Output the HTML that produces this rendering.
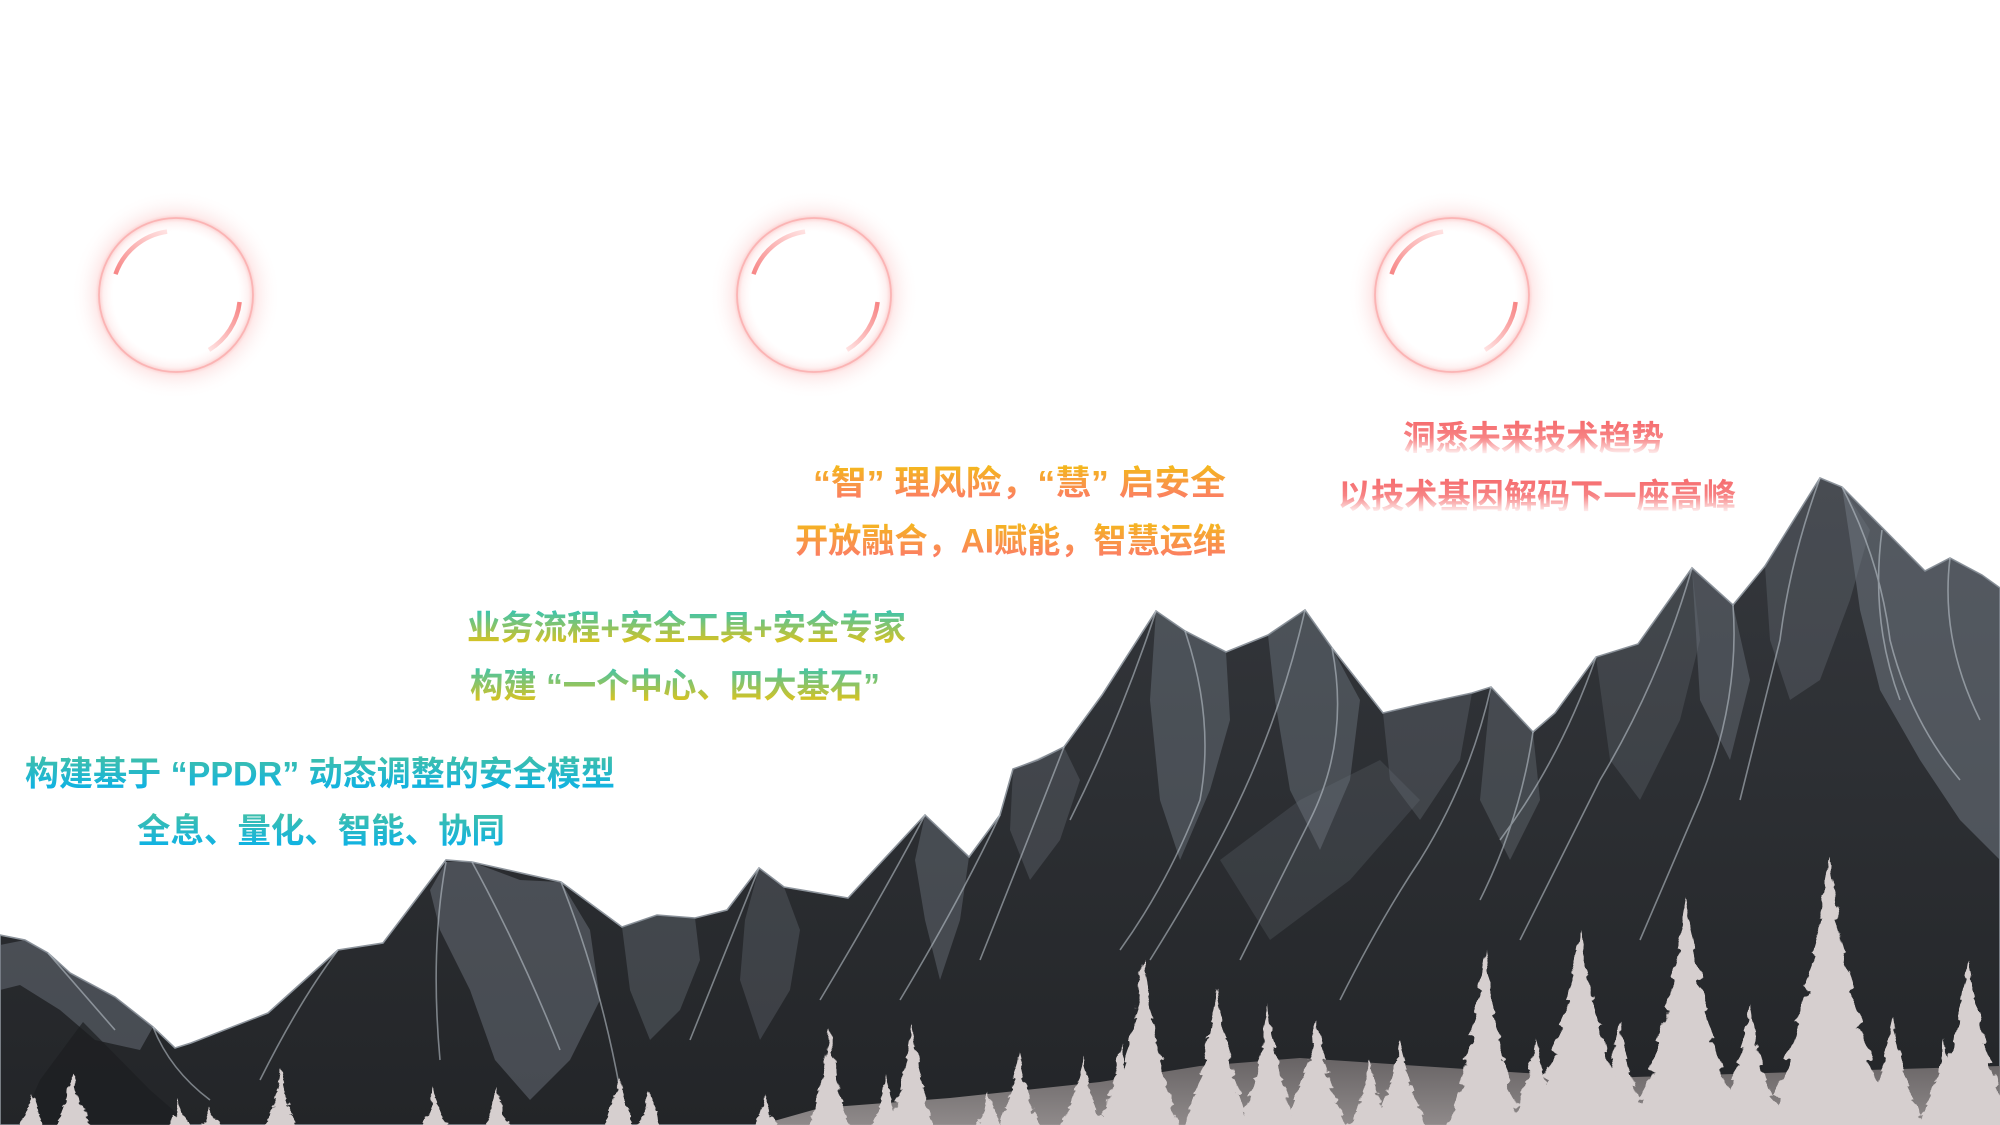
<!DOCTYPE html>
<html>
<head>
<meta charset="utf-8">
<style>
html,body{margin:0;padding:0;background:#ffffff;width:2000px;height:1125px;overflow:hidden}
svg{display:block}
text{font-family:"Liberation Sans","Noto Sans CJK SC",sans-serif;font-weight:700;font-size:34px}
</style>
</head>
<body>
<svg width="2000" height="1125" viewBox="0 0 2000 1125" xmlns="http://www.w3.org/2000/svg">
<defs>
  <radialGradient id="glow" cx="0.5" cy="0.5" r="0.5">
    <stop offset="0" stop-color="#ffffff" stop-opacity="0"/>
    <stop offset="0.6" stop-color="#ffdede" stop-opacity="0"/>
    <stop offset="0.69" stop-color="#fcc8c8" stop-opacity="0.25"/>
    <stop offset="0.733" stop-color="#f9aeae" stop-opacity="0.6"/>
    <stop offset="0.77" stop-color="#fcc6c6" stop-opacity="0.35"/>
    <stop offset="0.87" stop-color="#fde2e2" stop-opacity="0.2"/>
    <stop offset="1" stop-color="#ffffff" stop-opacity="0"/>
  </radialGradient>
  <linearGradient id="arcA" x1="0" y1="1" x2="1" y2="0">
    <stop offset="0" stop-color="#f78686"/>
    <stop offset="1" stop-color="#ffe2e2"/>
  </linearGradient>
  <linearGradient id="arcB" x1="1" y1="0" x2="0" y2="1">
    <stop offset="0" stop-color="#f78686"/>
    <stop offset="1" stop-color="#ffe2e2"/>
  </linearGradient>

  <linearGradient id="gB1" gradientUnits="userSpaceOnUse" x1="0" y1="757" x2="0" y2="789">
    <stop offset="0" stop-color="#3ebfab"/><stop offset="1" stop-color="#0fb2e4"/>
  </linearGradient>
  <linearGradient id="gB2" gradientUnits="userSpaceOnUse" x1="0" y1="814" x2="0" y2="846">
    <stop offset="0" stop-color="#3ebfab"/><stop offset="1" stop-color="#0fb2e4"/>
  </linearGradient>
  <linearGradient id="gG1" gradientUnits="userSpaceOnUse" x1="0" y1="611" x2="0" y2="643">
    <stop offset="0" stop-color="#3cc4ad"/><stop offset="1" stop-color="#dcc31d"/>
  </linearGradient>
  <linearGradient id="gG2" gradientUnits="userSpaceOnUse" x1="0" y1="667" x2="0" y2="701">
    <stop offset="0" stop-color="#3cc4ad"/><stop offset="1" stop-color="#dcc31d"/>
  </linearGradient>
  <linearGradient id="gO1" gradientUnits="userSpaceOnUse" x1="0" y1="466" x2="0" y2="498">
    <stop offset="0" stop-color="#f4b81c"/><stop offset="1" stop-color="#fc7e63"/>
  </linearGradient>
  <linearGradient id="gO2" gradientUnits="userSpaceOnUse" x1="0" y1="522" x2="0" y2="556">
    <stop offset="0" stop-color="#f4b81c"/><stop offset="1" stop-color="#fc7e63"/>
  </linearGradient>
  <linearGradient id="gP1" gradientUnits="userSpaceOnUse" x1="0" y1="421" x2="0" y2="458">
    <stop offset="0" stop-color="#f56c6e"/><stop offset="0.45" stop-color="#f78384"/><stop offset="0.95" stop-color="#ffffff"/>
  </linearGradient>
  <linearGradient id="gP2" gradientUnits="userSpaceOnUse" x1="0" y1="479" x2="0" y2="516">
    <stop offset="0" stop-color="#f56c6e"/><stop offset="0.45" stop-color="#f78384"/><stop offset="0.95" stop-color="#ffffff"/>
  </linearGradient>

  <linearGradient id="mtn" x1="0" y1="0" x2="0" y2="1">
    <stop offset="0" stop-color="#35383d"/>
    <stop offset="1" stop-color="#232528"/>
  </linearGradient>
  <linearGradient id="groundG" x1="0" y1="0" x2="0" y2="1">
    <stop offset="0" stop-color="#6f6a6b"/>
    <stop offset="1" stop-color="#9b9595"/>
  </linearGradient>

  <filter id="feather" x="-5%" y="-5%" width="110%" height="110%">
    <feTurbulence type="fractalNoise" baseFrequency="0.12 0.06" numOctaves="2" seed="4" result="t"/>
    <feDisplacementMap in="SourceGraphic" in2="t" scale="9" xChannelSelector="R" yChannelSelector="G"/>
  </filter>

  <symbol id="tree" viewBox="-1 0 2 1" preserveAspectRatio="none" overflow="visible">
    <polygon points="0,0 0.07,0.1 0.05,0.11 0.15,0.22 0.11,0.23 0.25,0.35 0.19,0.36 0.37,0.48 0.3,0.49 0.5,0.61 0.42,0.62 0.65,0.74 0.56,0.75 0.82,0.87 0.73,0.88 1,1 -1,1 -0.73,0.88 -0.82,0.87 -0.56,0.75 -0.65,0.74 -0.42,0.62 -0.5,0.61 -0.3,0.49 -0.37,0.48 -0.19,0.36 -0.25,0.35 -0.11,0.23 -0.15,0.22 -0.05,0.11 -0.07,0.1"/>
  </symbol>
</defs>

<!-- Circles -->
<g>
  <g transform="translate(176,295)">
    <circle r="105" fill="url(#glow)"/>
    <circle r="77" fill="none" stroke="#fbb4b4" stroke-width="1.8"/>
    <path d="M-60.5,-20.8 A64,64 0 0 1 -8.9,-63.4" fill="none" stroke="url(#arcA)" stroke-width="4.5"/>
    <path d="M63.6,7 A64,64 0 0 1 33,54.9" fill="none" stroke="url(#arcB)" stroke-width="4.5"/>
  </g>
  <g transform="translate(814,295)">
    <circle r="105" fill="url(#glow)"/>
    <circle r="77" fill="none" stroke="#fbb4b4" stroke-width="1.8"/>
    <path d="M-60.5,-20.8 A64,64 0 0 1 -8.9,-63.4" fill="none" stroke="url(#arcA)" stroke-width="4.5"/>
    <path d="M63.6,7 A64,64 0 0 1 33,54.9" fill="none" stroke="url(#arcB)" stroke-width="4.5"/>
  </g>
  <g transform="translate(1452,295)">
    <circle r="105" fill="url(#glow)"/>
    <circle r="77" fill="none" stroke="#fbb4b4" stroke-width="1.8"/>
    <path d="M-60.5,-20.8 A64,64 0 0 1 -8.9,-63.4" fill="none" stroke="url(#arcA)" stroke-width="4.5"/>
    <path d="M63.6,7 A64,64 0 0 1 33,54.9" fill="none" stroke="url(#arcB)" stroke-width="4.5"/>
  </g>
</g>

<!-- Mountains -->
<g>
  <path d="M0,935 L25,940 L48,953 L70,973 L115,997 L153,1027 L175,1048 L191,1043 L268,1013 L338,950 L383,943 L446,860 L472,862 L561,882 L622,927 L657,915 L695,918 L727,910 L759,868 L784,887 L848,898 L925,815 L969,857 L1000,815 L1013,769 L1038,760 L1064,747 L1102,695 L1156,611 L1185,631 L1226,652 L1268,635 L1305,610 L1332,648 L1383,713 L1421,704 L1472,693 L1491,687 L1533,732 L1555,713 L1596,657 L1638,644 L1692,568 L1733,605 L1765,566 L1820,478 L1842,487 L1925,571 L1950,558 L1982,575 L2000,588 L2000,1125 L0,1125 Z" fill="url(#mtn)" stroke="#8d949c" stroke-width="1.6"/>

  <g fill="#737b85">
    <polygon opacity="0.45" points="0,945 25,940 48,953 70,973 115,997 153,1027 140,1050 95,1040 60,1010 20,985 0,990"/>
    <polygon opacity="0.45" points="446,862 472,862 520,880 561,882 590,930 600,1000 570,1060 530,1100 495,1060 470,990 440,930 430,890"/>
    <polygon opacity="0.35" points="622,927 657,915 695,918 700,960 680,1010 650,1040 630,990"/>
    <polygon opacity="0.3" points="759,868 784,887 800,930 790,990 760,1040 740,980 745,920"/>
    <polygon opacity="0.4" points="925,815 969,857 960,920 940,980 925,920 915,860"/>
    <polygon opacity="0.3" points="1013,769 1064,747 1080,780 1060,840 1030,880 1010,830"/>
    <polygon opacity="0.42" points="1156,611 1185,631 1226,652 1230,720 1210,790 1180,860 1160,800 1150,700"/>
    <polygon opacity="0.42" points="1268,635 1305,610 1332,648 1360,700 1350,780 1320,850 1290,790 1275,700"/>
    <polygon opacity="0.3" points="1383,713 1421,704 1472,693 1460,760 1420,820 1390,780"/>
    <polygon opacity="0.35" points="1491,687 1533,732 1540,800 1510,860 1480,800"/>
    <polygon opacity="0.25" points="1596,657 1638,644 1692,568 1700,640 1680,720 1640,800 1610,760"/>
    <polygon opacity="0.4" points="1692,568 1733,605 1750,680 1730,760 1700,700"/>
    <polygon opacity="0.3" points="1765,566 1820,478 1842,487 1870,530 1850,600 1820,680 1790,700 1770,640"/>
    <polygon opacity="0.5" points="1842,487 1925,571 1950,558 1982,575 2000,588 2000,860 1960,820 1920,760 1880,690 1860,610 1850,540"/>
    <polygon opacity="0.22" points="1220,860 1300,800 1380,760 1420,800 1350,880 1270,940"/>
  </g>
  <polygon fill="#1c1e21" opacity="0.7" points="83,1022 150,1090 190,1125 20,1125 40,1080"/>

  <g fill="none" stroke="#c3ccd4" stroke-width="1.6" opacity="0.55">
    <path d="M446,862 Q430,950 440,1060"/>
    <path d="M472,862 Q520,950 560,1050"/>
    <path d="M338,950 Q300,1000 260,1080"/>
    <path d="M561,882 Q600,980 620,1090"/>
    <path d="M153,1027 Q170,1070 210,1100"/>
    <path d="M48,953 Q80,990 115,1030"/>
    <path d="M925,815 Q880,900 820,1000"/>
    <path d="M759,868 Q730,940 690,1040"/>
    <path d="M1000,815 Q960,900 900,1000"/>
    <path d="M1064,747 Q1020,860 980,960"/>
    <path d="M1156,611 Q1120,720 1070,820"/>
    <path d="M1185,631 Q1215,720 1200,800 Q1170,880 1120,950"/>
    <path d="M1305,610 Q1280,720 1230,820 Q1200,880 1150,960"/>
    <path d="M1332,648 Q1350,740 1310,820 Q1280,880 1240,960"/>
    <path d="M1491,687 Q1470,780 1420,860 Q1380,920 1340,1000"/>
    <path d="M1533,732 Q1520,820 1480,900"/>
    <path d="M1596,657 Q1560,760 1500,840"/>
    <path d="M1692,568 Q1660,680 1600,780 Q1560,860 1520,940"/>
    <path d="M1733,605 Q1740,700 1700,800 Q1670,870 1640,940"/>
    <path d="M1820,478 Q1790,560 1780,640 Q1760,720 1740,800"/>
    <path d="M1842,487 Q1880,560 1890,640 Q1910,720 1960,780"/>
    <path d="M1882,530 Q1870,620 1900,700"/>
    <path d="M1950,558 Q1940,640 1980,720"/>
  </g>

  <!-- ground -->
  <polygon fill="url(#groundG)" opacity="0.9" points="760,1125 820,1108 950,1098 1100,1082 1200,1066 1300,1058 1450,1068 1600,1078 1800,1072 2000,1066 2000,1125"/>

  <!-- trees -->
  <g fill="#d6cfcf" filter="url(#feather)">
    <use href="#tree" x="-1" y="0" width="2" height="1" transform="translate(1750,1005) scale(36,122)"/>
    <use href="#tree" x="-1" y="0" width="2" height="1" transform="translate(1620,1020) scale(32,107)"/>
    <use href="#tree" x="-1" y="0" width="2" height="1" transform="translate(1400,1040) scale(28,87)"/>
    <use href="#tree" x="-1" y="0" width="2" height="1" transform="translate(1370,1060) scale(24,67)"/>
    <use href="#tree" x="-1" y="0" width="2" height="1" transform="translate(1945,1040) scale(30,87)"/>
    <use href="#tree" x="-1" y="0" width="2" height="1" transform="translate(1120,1045) scale(24,82)"/>
    <use href="#tree" x="-1" y="0" width="2" height="1" transform="translate(1829,857) scale(68,272)"/>
    <use href="#tree" x="-1" y="0" width="2" height="1" transform="translate(1686,897) scale(58,232)"/>
    <use href="#tree" x="-1" y="0" width="2" height="1" transform="translate(1580,930) scale(56,199)"/>
    <use href="#tree" x="-1" y="0" width="2" height="1" transform="translate(1485,950) scale(40,179)"/>
    <use href="#tree" x="-1" y="0" width="2" height="1" transform="translate(1969,960) scale(46,169)"/>
    <use href="#tree" x="-1" y="0" width="2" height="1" transform="translate(1893,1017) scale(34,112)"/>
    <use href="#tree" x="-1" y="0" width="2" height="1" transform="translate(1536,1040) scale(30,89)"/>
    <use href="#tree" x="-1" y="0" width="2" height="1" transform="translate(1143,957) scale(38,172)"/>
    <use href="#tree" x="-1" y="0" width="2" height="1" transform="translate(1217,990) scale(36,139)"/>
    <use href="#tree" x="-1" y="0" width="2" height="1" transform="translate(1268,1003) scale(30,126)"/>
    <use href="#tree" x="-1" y="0" width="2" height="1" transform="translate(1316,1020) scale(34,109)"/>
    <use href="#tree" x="-1" y="0" width="2" height="1" transform="translate(1083,1057) scale(24,72)"/>
    <use href="#tree" x="-1" y="0" width="2" height="1" transform="translate(1019,1050) scale(22,79)"/>
    <use href="#tree" x="-1" y="0" width="2" height="1" transform="translate(73,1073) scale(20,56)"/>
    <use href="#tree" x="-1" y="0" width="2" height="1" transform="translate(32,1093) scale(15,36)"/>
    <use href="#tree" x="-1" y="0" width="2" height="1" transform="translate(281,1070) scale(18,59)"/>
    <use href="#tree" x="-1" y="0" width="2" height="1" transform="translate(210,1107) scale(12,22)"/>
    <use href="#tree" x="-1" y="0" width="2" height="1" transform="translate(179,1100) scale(12,29)"/>
    <use href="#tree" x="-1" y="0" width="2" height="1" transform="translate(434,1087) scale(15,42)"/>
    <use href="#tree" x="-1" y="0" width="2" height="1" transform="translate(497,1087) scale(15,42)"/>
    <use href="#tree" x="-1" y="0" width="2" height="1" transform="translate(619,1077) scale(18,52)"/>
    <use href="#tree" x="-1" y="0" width="2" height="1" transform="translate(650,1090) scale(14,39)"/>
    <use href="#tree" x="-1" y="0" width="2" height="1" transform="translate(765,1093) scale(14,36)"/>
    <use href="#tree" x="-1" y="0" width="2" height="1" transform="translate(829,1027) scale(22,102)"/>
    <use href="#tree" x="-1" y="0" width="2" height="1" transform="translate(912,1023) scale(24,106)"/>
    <use href="#tree" x="-1" y="0" width="2" height="1" transform="translate(886,1073) scale(16,56)"/>
    <use href="#tree" x="-1" y="0" width="2" height="1" transform="translate(989,1093) scale(14,36)"/>
  </g>
</g>

<!-- Texts -->
<text x="1403" y="450" textLength="261" lengthAdjust="spacingAndGlyphs" fill="url(#gP1)">洞悉未来技术趋势</text>
<text x="1338" y="508" textLength="398" lengthAdjust="spacingAndGlyphs" fill="url(#gP2)">以技术基因解码下一座高峰</text>

<text x="813" y="494.5" textLength="413" lengthAdjust="spacingAndGlyphs" fill="url(#gO1)">“智”&#160;理风险，“慧”&#160;启安全</text>
<text x="795" y="552.5" textLength="431" lengthAdjust="spacingAndGlyphs" fill="url(#gO2)">开放融合，AI赋能，智慧运维</text>

<text x="467" y="639.5" textLength="439" lengthAdjust="spacingAndGlyphs" fill="url(#gG1)">业务流程+安全工具+安全专家</text>
<text x="470" y="697.5" textLength="410" lengthAdjust="spacingAndGlyphs" fill="url(#gG2)">构建&#160;“一个中心、四大基石”</text>

<text x="25" y="785.5" textLength="590" lengthAdjust="spacingAndGlyphs" fill="url(#gB1)">构建基于&#160;“PPDR”&#160;动态调整的安全模型</text>
<text x="137" y="842.5" textLength="368" lengthAdjust="spacingAndGlyphs" fill="url(#gB2)">全息、量化、智能、协同</text>
</svg>
</body>
</html>
